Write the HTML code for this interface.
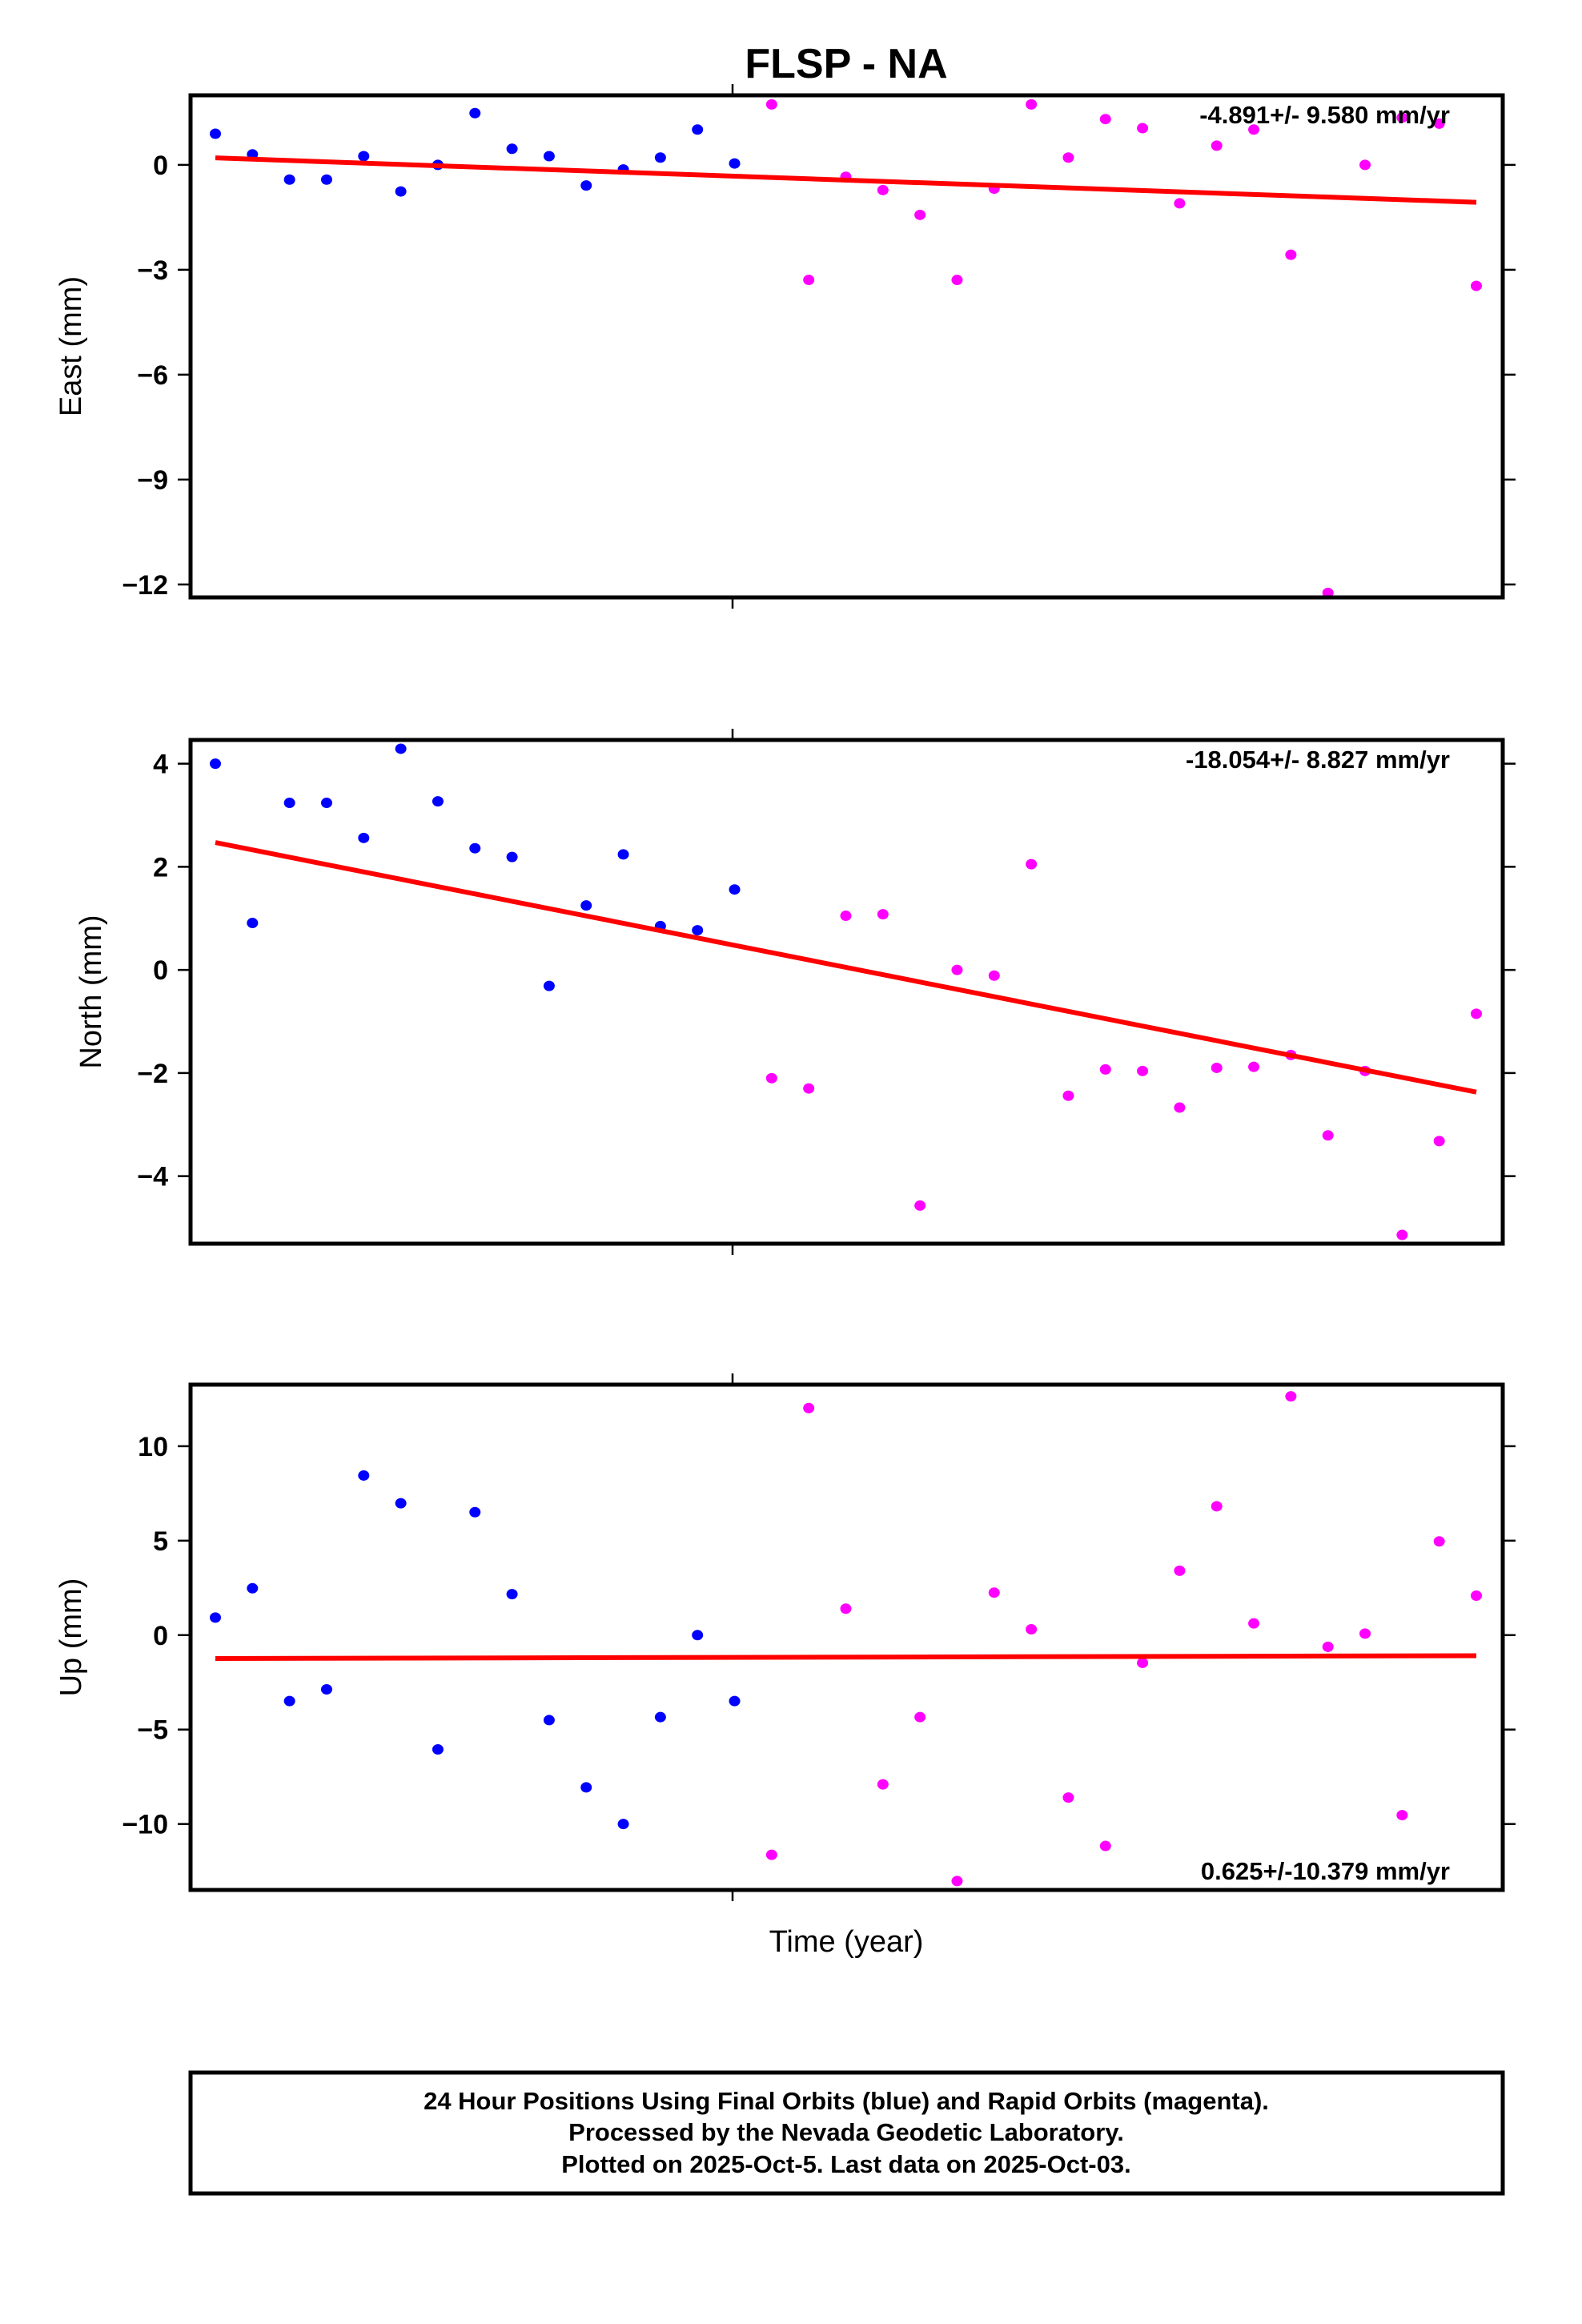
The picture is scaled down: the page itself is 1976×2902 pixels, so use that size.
<!DOCTYPE html>
<html><head><meta charset="utf-8"><style>
html,body{margin:0;padding:0;background:#fff;}
svg{display:block;font-family:"Liberation Sans",sans-serif;}
</style></head><body>
<svg id="chart" width="1976" height="2902" viewBox="0 0 1976 2902" xmlns="http://www.w3.org/2000/svg">
<text x="1057" y="97" font-size="52" font-weight="bold" text-anchor="middle">FLSP - NA</text>
<text x="1057" y="2437" font-size="38" text-anchor="middle">Time (year)</text>
<g>
<rect x="238" y="2588" width="1639" height="151" fill="none" stroke="#000" stroke-width="5"/>
<text x="1057" y="2634" font-size="31" font-weight="bold" text-anchor="middle">24 Hour Positions Using Final Orbits (blue) and Rapid Orbits (magenta).</text>
<text x="1057" y="2673" font-size="31" font-weight="bold" text-anchor="middle">Processed by the Nevada Geodetic Laboratory.</text>
<text x="1057" y="2713" font-size="31" font-weight="bold" text-anchor="middle">Plotted on 2025-Oct-5. Last data on 2025-Oct-03.</text>
</g>
</svg>
<script>
const nBlue = 15;
const eastValues = [0.89,0.3,-0.42,-0.42,0.25,-0.76,0,1.48,0.46,0.25,-0.59,-0.13,0.21,1.01,0.04,
 1.73,-3.29,-0.34,-0.72,-1.43,-3.29,-0.68,1.73,0.21,1.31,1.05,-1.1,0.55,1.01,-2.57,-12.24,0,1.35,1.18,-3.46];
const northValues = [4.0,0.91,3.24,3.24,2.56,4.29,3.27,2.36,2.19,-0.31,1.25,2.24,0.85,0.77,1.56,
 -2.1,-2.3,1.05,1.08,-4.57,0,-0.11,2.05,-2.44,-1.93,-1.96,-2.67,-1.9,-1.88,-1.65,-3.21,-1.96,-5.14,-3.32,-0.85];
const upValues = [0.93,2.48,-3.49,-2.87,8.45,6.98,-6.05,6.51,2.17,-4.5,-8.06,-10,-4.34,0,-3.49,
 -11.63,12.02,1.4,-7.9,-4.34,-13.02,2.25,0.31,-8.6,-11.16,-1.47,3.41,6.82,0.62,12.64,-0.62,0.08,-9.53,4.96,2.09];
const eastTrend = [0.2,-1.07];
const northTrend = [2.47,-2.37];
const upTrend = [-1.24,-1.09];
const eastTicks = [0,-3,-6,-9,-12];
const northTicks = [4,2,0,-2,-4];
const upTicks = [10,5,0,-5,-10];
const rateLabels = ["-4.891+/- 9.580 mm/yr","-18.054+/- 8.827 mm/yr","0.625+/-10.379 mm/yr"];

const NS="http://www.w3.org/2000/svg";
const svg=document.getElementById('chart');
function mk(tag,attrs,parent){const e=document.createElementNS(NS,tag);for(const k in attrs)e.setAttribute(k,attrs[k]);(parent||svg).appendChild(e);return e;}
const X0=238,X1=1877;
const N=eastValues.length;
function xs(i){return 269+i*(1844-269)/(N-1);}
const panels=[
 {name:'east',label:'East (mm)',vals:eastValues,trend:eastTrend,ticks:eastTicks,top:119,bot:746,ymax:1.99,ymin:-12.37,lx:88,rate:rateLabels[0],rateTop:true},
 {name:'north',label:'North (mm)',vals:northValues,trend:northTrend,ticks:northTicks,top:924,bot:1553,ymax:4.46,ymin:-5.31,lx:113,rate:rateLabels[1],rateTop:true},
 {name:'up',label:'Up (mm)',vals:upValues,trend:upTrend,ticks:upTicks,top:1729,bot:2360,ymax:13.26,ymin:-13.49,lx:88,rate:rateLabels[2],rateTop:false}
];
panels.forEach(p=>{
 const g=mk('g',{});
 
 
 const ys=v=>p.top+(p.ymax-v)/(p.ymax-p.ymin)*(p.bot-p.top);
 p.ticks.forEach(t=>{
  const y=ys(t);
  const tl=mk('line',{x1:X0-16,x2:X0,y1:y,y2:y,stroke:'#000','stroke-width':2.5},g);
  
  
  mk('line',{x1:X1,x2:X1+16,y1:y,y2:y,stroke:'#000','stroke-width':2.5},g);
  const tx=mk('text',{x:X0-28,y:y+12,'font-size':34,'font-weight':'bold','text-anchor':'end'},g);
  tx.textContent=(t<0?'\u2212'+(-t):''+t);
  
  
 });
 mk('line',{x1:915,x2:915,y1:p.top-14,y2:p.top,stroke:'#000','stroke-width':2.5},g);
 mk('line',{x1:915,x2:915,y1:p.bot,y2:p.bot+14,stroke:'#000','stroke-width':2.5},g);
 const cy=(p.top+p.bot)/2;
 const yl=mk('text',{x:p.lx,y:cy,'font-size':38,'text-anchor':'middle',transform:`rotate(-90 ${p.lx} ${cy})`,dy:13},g);
 yl.textContent=p.label;
 
 
 p.vals.forEach((v,i)=>{
  const c=mk('ellipse',{cx:xs(i),cy:ys(v),rx:7,ry:6.5,fill:i<nBlue?'#0000ff':'#ff00ff'},g);
  
  
 });
 const tr=mk('line',{x1:xs(0),x2:xs(N-1),y1:ys(p.trend[0]),y2:ys(p.trend[1]),stroke:'#ff0000','stroke-width':6},g);
 
 
 const fr=mk('rect',{x:X0,y:p.top,width:X1-X0,height:p.bot-p.top,fill:'none',stroke:'#000','stroke-width':5},g);
 
 
 const rt=mk('text',{x:1811,y:p.rateTop?p.top+35:p.bot-13,'font-size':31,'font-weight':'bold','text-anchor':'end'},g);
 rt.textContent=p.rate;
 
 
});
</script>
</body></html>
